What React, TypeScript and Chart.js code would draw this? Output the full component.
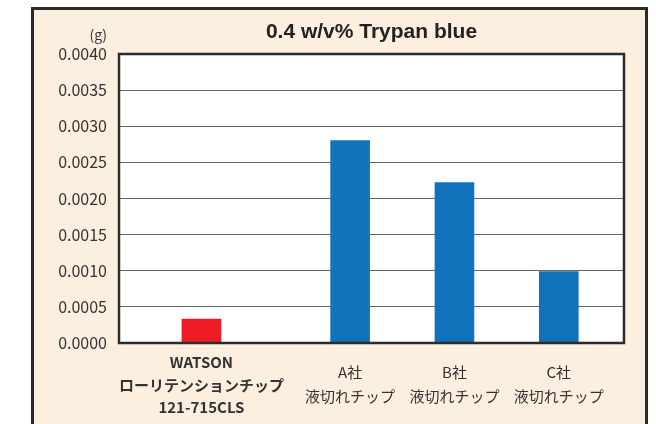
import React, { useEffect, useRef } from 'react';
import { Chart, registerables } from 'chart.js';

Chart.register(...registerables);

// ---- data ----
const chartTitle = '0.4 w/v% Trypan blue';
const unitLabel = '(g)';
const categories: string[][] = [
  ['WATSON', 'ローリテンションチップ', '121-715CLS'],
  ['A社', '液切れチップ'],
  ['B社', '液切れチップ'],
  ['C社', '液切れチップ'],
];
const values: number[] = [0.00033, 0.0028, 0.00222, 0.00099];
const barColors: string[] = ['#ED1C24', '#1273BD', '#1273BD', '#1273BD'];
const yTickValues: number[] = [0, 0.0005, 0.001, 0.0015, 0.002, 0.0025, 0.003, 0.0035, 0.004];

// ---- layout (not data) ----
const SLOT = [0, 1.425, 2.425, 3.425];
const X_MIN = -0.79;
const X_MAX = 4.05;

const panelPlugin = {
  id: 'panel',
  beforeDraw(chart: any) {
    const ctx = chart.ctx;
    const a = chart.chartArea;
    ctx.save();
    ctx.fillStyle = '#FFFFFF';
    ctx.fillRect(0, 0, chart.width, chart.height);
    ctx.fillStyle = '#FCEFE0';
    ctx.fillRect(32.5, 8.5, 614, 440);
    ctx.strokeStyle = '#2a2a2a';
    ctx.lineWidth = 3;
    ctx.strokeRect(32.5, 8.5, 614, 440);
    ctx.fillStyle = '#FFFFFF';
    ctx.fillRect(a.left, a.top, a.right - a.left, a.bottom - a.top);
    ctx.restore();
  },
  afterDatasetsDraw(chart: any) {
    const ctx = chart.ctx;
    const a = chart.chartArea;
    ctx.save();
    ctx.strokeStyle = '#2b2b2b';
    ctx.lineWidth = 2.5;
    ctx.strokeRect(a.left, a.top, a.right - a.left, a.bottom - a.top);
    ctx.fillStyle = '#333333';
    ctx.font = '14px "Noto Sans CJK JP", "Noto Sans", sans-serif';
    ctx.textAlign = 'right';
    ctx.textBaseline = 'middle';
    ctx.fillText(unitLabel, a.left - 12, a.top - 19);
    ctx.restore();
  },
};

export default function App() {
  const ref = useRef<HTMLCanvasElement | null>(null);

  useEffect(() => {
    if (!ref.current) return;
    const chart = new Chart(ref.current, {
      type: 'bar',
      data: {
        datasets: [
          {
            data: values.map((v, i) => ({ x: SLOT[i], y: v })),
            backgroundColor: barColors,
            borderWidth: 0,
            barThickness: 39,
          },
        ],
      },
      options: {
        responsive: false,
        animation: false,
        layout: { padding: { left: 0, right: 32, top: 0, bottom: 0 } },
        plugins: {
          legend: { display: false },
          tooltip: { enabled: false },
          title: {
            display: true,
            text: chartTitle,
            fullSize: false,
            color: '#222222',
            font: { family: '"Liberation Sans", Arial, sans-serif', size: 21, weight: 'bold', lineHeight: 1.2 },
            padding: { top: 20, bottom: 8.8 },
          },
        },
        scales: {
          x: {
            type: 'linear',
            offset: false,
            min: X_MIN,
            max: X_MAX,
            grid: { display: false, drawTicks: false, offset: false },
            border: { display: false },
            afterBuildTicks: (scale: any) => {
              scale.ticks = SLOT.map((v) => ({ value: v }));
            },
            afterFit: (scale: any) => {
              scale.height = 81;
            },
            ticks: {
              autoSkip: false,
              maxRotation: 0,
              minRotation: 0,
              padding: 19.5,
              crossAlign: 'center',
              color: '#333333',
              font: (ctx: any) =>
                ctx.index === 0
                  ? { family: '"Noto Sans CJK JP", sans-serif', size: 15, weight: 'bold', lineHeight: 1.5 }
                  : { family: '"Noto Sans CJK JP", sans-serif', size: 15, weight: 'normal', lineHeight: 1.6 },
              callback: (_v: any, i: number) => categories[i],
            },
          },
          y: {
            min: 0,
            max: 0.004,
            grid: { color: '#666666', lineWidth: 1, drawTicks: false },
            border: { display: false },
            afterBuildTicks: (scale: any) => {
              scale.ticks = yTickValues.map((v) => ({ value: v }));
            },
            afterFit: (scale: any) => {
              scale.width = 119;
            },
            ticks: {
              padding: 12,
              color: '#333333',
              font: { family: '"Noto Sans CJK JP", sans-serif', size: 16 },
              callback: (v: any) => Number(v).toFixed(4),
            },
          },
        },
      },
      plugins: [panelPlugin],
    });
    return () => chart.destroy();
  }, []);

  return (
    <div style={{ position: 'absolute', left: 0, top: 0, width: 656, height: 424 }}>
      <canvas ref={ref} width={656} height={424} />
    </div>
  );
}
